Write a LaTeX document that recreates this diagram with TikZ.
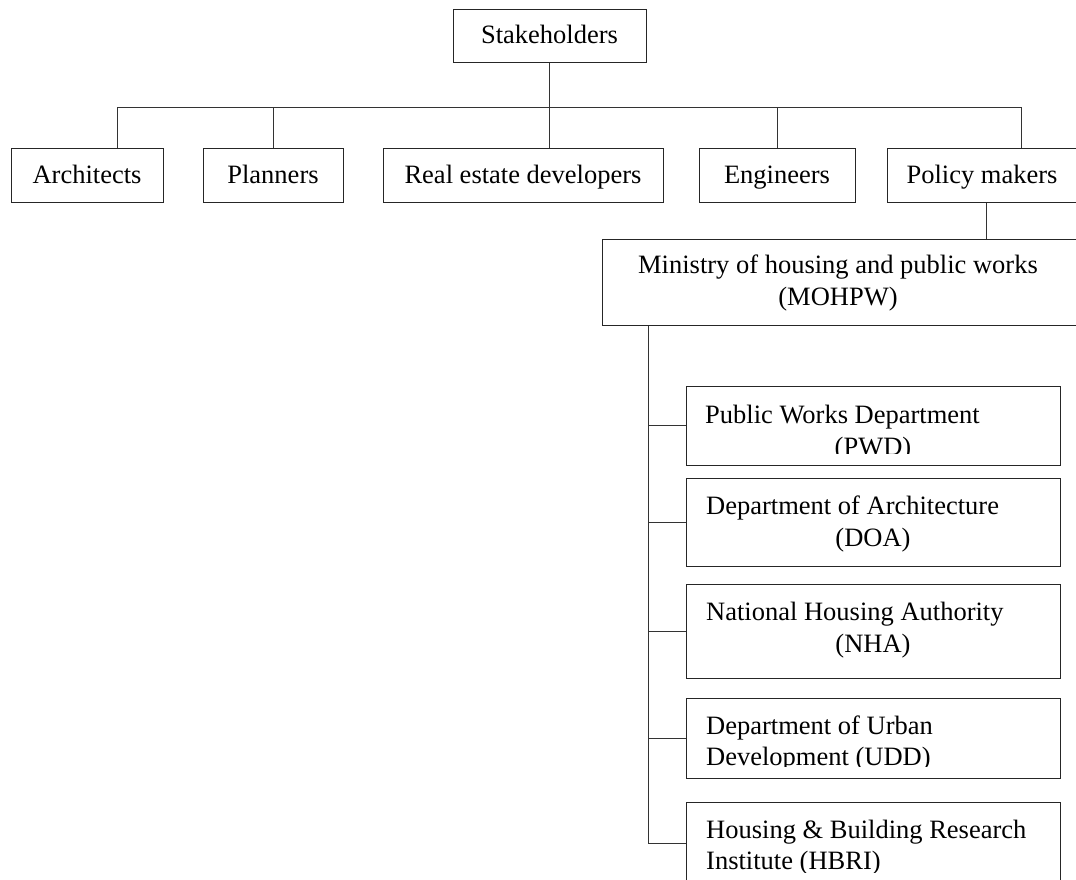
\documentclass[tikz,border=0pt]{standalone}
\usepackage{fontspec}
\setmainfont{Liberation Serif}
\begin{document}
\begin{tikzpicture}[x=1pt,y=-1pt,
  txt/.style={font=\fontsize{26.5}{32}\selectfont},
  box/.style={draw=black!85, line width=1pt, rectangle, inner sep=0pt,
              txt, text height=16pt, text depth=0pt},
  lbl/.style={txt, inner sep=0pt, anchor=base},
  lblw/.style={lbl, anchor=base west},
  link/.style={draw=black!80, line width=1pt}]
\useasboundingbox (0,0) rectangle (1076,879);
\clip (0,0) rectangle (1076,879);

% top of the tree
\node[box, minimum width=193pt, minimum height=53pt] (stake) at (549.5,35.5) {Stakeholders};

% first level
\node[box, minimum width=152pt, minimum height=54pt] (arch) at (87,175) {Architects};
\node[box, minimum width=140pt, minimum height=54pt] (plan) at (273,175) {Planners};
\node[box, minimum width=280pt, minimum height=54pt] (red)  at (523,175) {Real estate developers};
\node[box, minimum width=156pt, minimum height=54pt] (eng)  at (777,175) {Engineers};
\node[box, minimum width=190pt, minimum height=54pt] (pol)  at (982,175) {Policy makers};

% ministry
\node[box, minimum width=476pt, minimum height=86pt] (moh) at (840,282) {};
\node[lbl] (mohA) at (838,273) {Ministry of housing and public works};
\node[lbl] (mohB) at (838,305) {(MOHPW)};

% departments under the ministry
\node[box, minimum width=374pt, minimum height=79pt] (pwd)  at (873,425.5) {};
\node[box, minimum width=374pt, minimum height=88pt] (doa)  at (873,522) {};
\node[box, minimum width=374pt, minimum height=94pt] (nha)  at (873,631) {};
\node[box, minimum width=374pt, minimum height=80pt] (udd)  at (873,738) {};
\node[box, minimum width=374pt, minimum height=82pt] (hbri) at (873,843) {};

% department labels, cut off by the inner margin of each box
\begin{scope}
  \clip (pwd.north west) rectangle ([yshift=12pt]pwd.south east);
  \node[lblw] (pwdA) at (705,423) {Public Works Department};
  \node[lbl]  (pwdB) at (873,455) {(PWD)};
\end{scope}
\begin{scope}
  \clip (doa.north west) rectangle ([yshift=12pt]doa.south east);
  \node[lblw] (doaA) at (706,514) {Department of Architecture};
  \node[lbl]  (doaB) at (873,546) {(DOA)};
\end{scope}
\begin{scope}
  \clip (nha.north west) rectangle ([yshift=12pt]nha.south east);
  \node[lblw] (nhaA) at (706,620) {National Housing Authority};
  \node[lbl]  (nhaB) at (873,652) {(NHA)};
\end{scope}
\begin{scope}
  \clip (udd.north west) rectangle ([yshift=12pt]udd.south east);
  \node[lblw] (uddA) at (706,734) {Department of Urban};
  \node[lblw] (uddB) at (706,765) {Development (UDD)};
\end{scope}
\begin{scope}
  \clip (hbri.north west) rectangle ([yshift=12pt]hbri.south east);
  \node[lblw] (hbriA) at (706,838) {Housing \& Building Research};
  \node[lblw] (hbriB) at (706,869) {Institute (HBRI)};
\end{scope}

% connectors of the first level
\coordinate (busL) at (117,107);
\coordinate (busR) at (1021,107);
\coordinate (pdrop) at (986,0);
\coordinate (trunk) at (648,0);
\draw[link] (busL |- arch.north) -- (busL) -- (busR) -- (busR |- pol.north);
\draw[link] (stake.south) -- (stake.south |- red.north);
\draw[link] (plan.north) -- (plan.north |- busL);
\draw[link] (eng.north) -- (eng.north |- busL);

% policy makers to the ministry
\draw[link] (pol.south -| pdrop) -- (moh.north -| pdrop);

% ministry to its departments
\draw[link] (moh.south -| trunk) -- (hbri.west -| trunk) -- (hbri.west);
\draw[link] (pwd.west -| trunk) -- (pwd.west);
\draw[link] (doa.west -| trunk) -- (doa.west);
\draw[link] (nha.west -| trunk) -- (nha.west);
\draw[link] (udd.west -| trunk) -- (udd.west);
\end{tikzpicture}
\end{document}
